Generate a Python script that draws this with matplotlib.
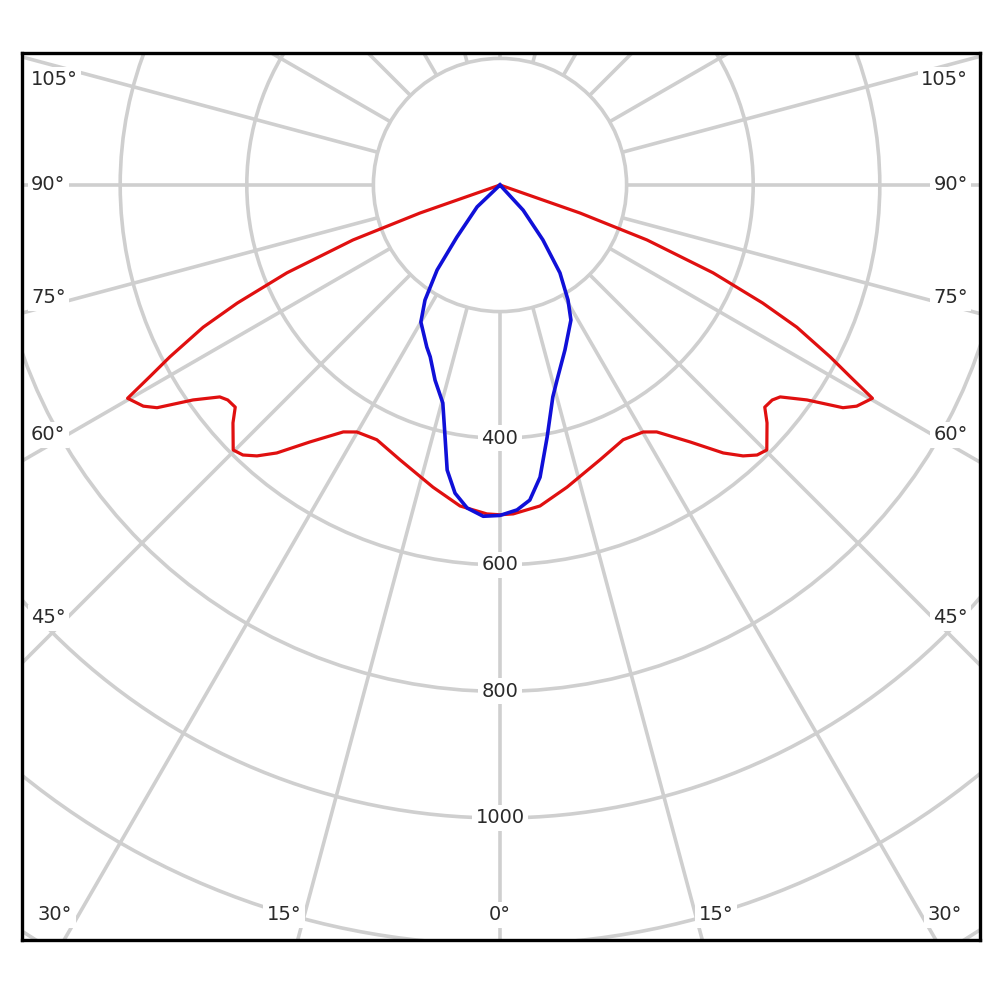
import numpy as np
import matplotlib
matplotlib.use("Agg")
import matplotlib.pyplot as plt
from matplotlib.patches import Circle

# === Data (angle from nadir in degrees, intensity in cd) ===
red_angles = [0, 2.3, 7.1, 12.5, 20.0, 25.8, 30.1, 32.4, 36.5, 39.8, 41.9, 43.6,
              45.2, 48.3, 50.0, 51.7, 52.9, 55.0, 57.0, 58.2, 60.2, 61.3, 62.5,
              64.4, 65.8, 67.6, 69.5, 70.7, 90]
red_cd = [521, 520, 511, 489, 462, 447, 451, 462, 505, 551, 575, 589,
          594, 565, 546, 548, 555, 592, 646, 663, 678, 631, 588,
          520, 455, 364, 248, 134, 0]

blue_left_angles = [0, 2.9, 5.8, 8.3, 10.5, 12.4, 14.7, 18.4, 22.1, 24.3, 30.0,
                    33.1, 36.5, 39.6, 46.3, 90]
blue_left_cd = [522, 524, 513, 492, 458, 405, 356, 325, 293, 281, 250,
                217, 167, 107, 50, 0]
blue_right_angles = [0, 3.0, 5.4, 7.8, 10.6, 14.0, 16.3, 21.5, 27.7, 30.6, 34.3,
                     38.0, 42.6, 90]
blue_right_cd = [522, 514, 500, 466, 405, 345, 321, 280, 241, 211, 168,
                 110, 54, 0]

ring_values = [200, 400, 600, 800, 1000, 1200, 1400, 1600]
ring_labels = ["400", "600", "800", "1000"]
spoke_angles = list(range(0, 360, 15))
side_labels = ["105°", "90°", "75°", "60°", "45°"]
bottom_labels = ["30°", "15°", "0°", "15°", "30°"]

# === Geometry (pixel scale of the reference) ===
S = 0.633          # px per cd
CX, CY = 500, 185  # pole position in pixels


def px(xp, yp):
    return (xp - CX) / S, (CY - yp) / S


def to_xy(angles, cd, side=1):
    a = np.radians(np.asarray(angles, dtype=float)) * side
    r = np.asarray(cd, dtype=float)
    return r * np.sin(a), -r * np.cos(a)


fig = plt.figure(figsize=(10, 10), dpi=100)
ax = fig.add_axes([0.022, 0.06, 0.958, 0.887])
x0, y1 = px(22, 53)
x1, y0 = px(980, 940)
ax.set_xlim(x0, x1)
ax.set_ylim(y0, y1)
ax.set_xticks([])
ax.set_yticks([])
for sp in ax.spines.values():
    sp.set_color("black")
    sp.set_linewidth(2.4)

grid_col = "#cfcfcf"
for rv in ring_values:
    ax.add_patch(Circle((0, 0), rv, fill=False, color=grid_col, lw=2.6, zorder=1))
for ang in spoke_angles:
    a = np.radians(ang)
    ax.plot([200 * np.sin(a), 2500 * np.sin(a)], [-200 * np.cos(a), -2500 * np.cos(a)],
            color=grid_col, lw=2.6, zorder=1, solid_capstyle="butt")

# === Curves ===
rx_l, ry_l = to_xy(red_angles[::-1], red_cd[::-1], side=-1)
rx_r, ry_r = to_xy(red_angles, red_cd, side=1)
ax.plot(np.r_[rx_l, rx_r], np.r_[ry_l, ry_r], color="#e01010", lw=2.3, zorder=3,
        solid_joinstyle="round")

bx_l, by_l = to_xy(blue_left_angles[::-1], blue_left_cd[::-1], side=-1)
bx_r, by_r = to_xy(blue_right_angles, blue_right_cd, side=1)
ax.plot(np.r_[bx_l, bx_r], np.r_[by_l, by_r], color="#1010d8", lw=2.6, zorder=3,
        solid_joinstyle="round")

# === Labels ===
box = dict(facecolor="white", edgecolor="none", pad=2.5)
txt = dict(fontsize=14, color="#2a2a2a", va="center", zorder=4, bbox=box)

for lab, rv in zip(ring_labels, [400, 600, 800, 1000]):
    ax.text(0, -rv, lab, ha="center", **txt)

side_y = [80, 185, 298, 435, 618]
for lab, yp in zip(side_labels, side_y):
    ax.text(*px(31, yp), lab, ha="left", **txt)
    ax.text(*px(968, yp), lab, ha="right", **txt)

bottom_x = [55, 284, 500, 716, 945]
for lab, xp in zip(bottom_labels, bottom_x):
    ax.text(*px(xp, 915), lab, ha="center", **txt)

fig.savefig("out.png", dpi=100, facecolor="white")
